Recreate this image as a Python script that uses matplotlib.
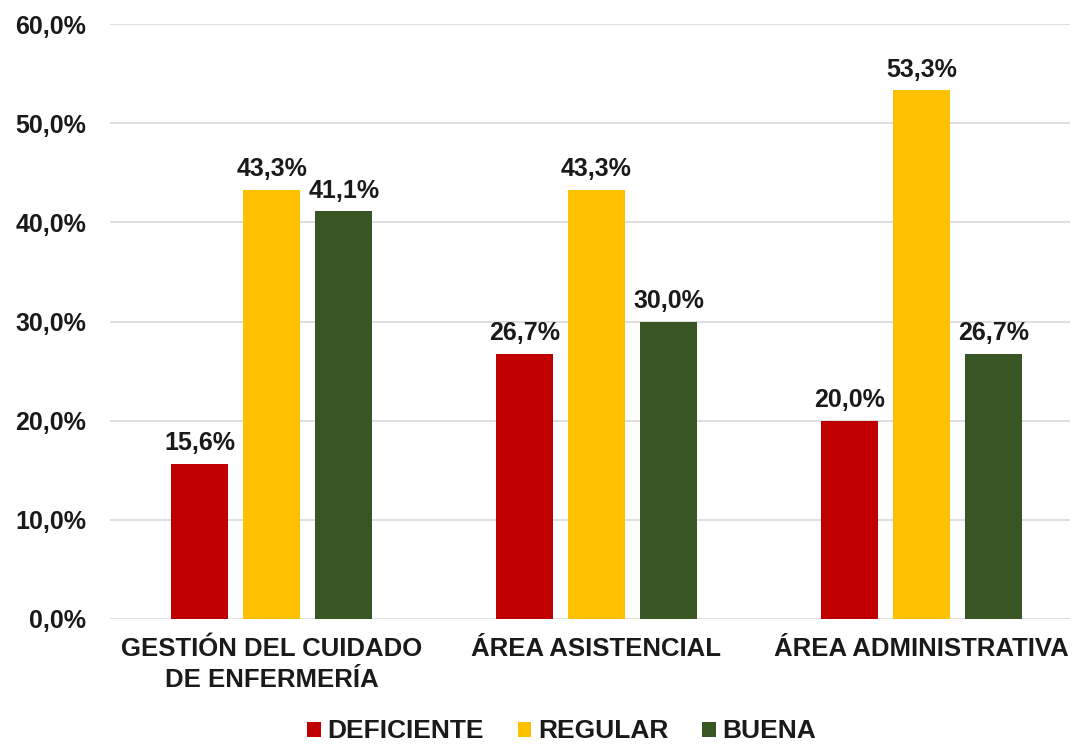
import matplotlib
matplotlib.use("Agg")
import matplotlib.pyplot as plt
import numpy as np

categories = ["GESTIÓN DEL CUIDADO\nDE ENFERMERÍA", "ÁREA ASISTENCIAL", "ÁREA ADMINISTRATIVA"]
series_names = ["DEFICIENTE", "REGULAR", "BUENA"]
deficiente = [15.6, 26.7, 20.0]
regular = [43.3, 43.3, 53.3]
buena = [41.1, 30.0, 26.7]
colors = ["#C00000", "#FFC000", "#375623"]
yticks = [0, 10, 20, 30, 40, 50, 60]

plt.rcParams['font.family'] = ['Liberation Sans', 'DejaVu Sans']
plt.rcParams['font.weight'] = 'bold'

fig = plt.figure(figsize=(10.76, 7.47), dpi=100)
ax = fig.add_axes([110/1076, 1-619/747, (1070-110)/1076, (619-24)/747])

x = np.arange(len(categories))
width = 0.175
offset = 0.222
for i, (vals, name, c) in enumerate(zip([deficiente, regular, buena], series_names, colors)):
    bars = ax.bar(x + (i-1)*offset, vals, width, color=c, label=name, zorder=3)
    for b, v in zip(bars, vals):
        ax.text(b.get_x()+b.get_width()/2, v + 0.9, f"{v:.1f}%".replace('.', ','),
                ha='center', va='bottom', fontsize=18, fontweight='bold', color='#1a1a1a')

ax.set_ylim(0, 60)
ax.set_xlim(-0.498, 2.458)
ax.set_yticks(yticks)
ax.set_yticklabels([f"{t:.1f}%".replace('.', ',') for t in yticks], fontsize=18, fontweight='bold', color='#1a1a1a')
ax.set_xticks(x)
ax.set_xticklabels(categories, fontsize=18.5, fontweight='bold', color='#1a1a1a', linespacing=1.35)
ax.tick_params(axis='both', length=0)
ax.tick_params(axis='y', pad=17)
ax.tick_params(axis='x', pad=13)
ax.grid(axis='y', color='#D9D9D9', linewidth=1.2, zorder=0)
for s in ax.spines.values():
    s.set_visible(False)

leg = fig.legend(loc='lower center', bbox_to_anchor=(0.522, -0.027), ncol=3, frameon=False,
                 prop={'size': 19, 'weight': 'bold'}, handlelength=0.5, handleheight=0.5,
                 handletextpad=0.25, columnspacing=1.3)
for t in leg.get_texts():
    t.set_color('#1a1a1a')

fig.savefig("out.png", dpi=100, facecolor='white')
